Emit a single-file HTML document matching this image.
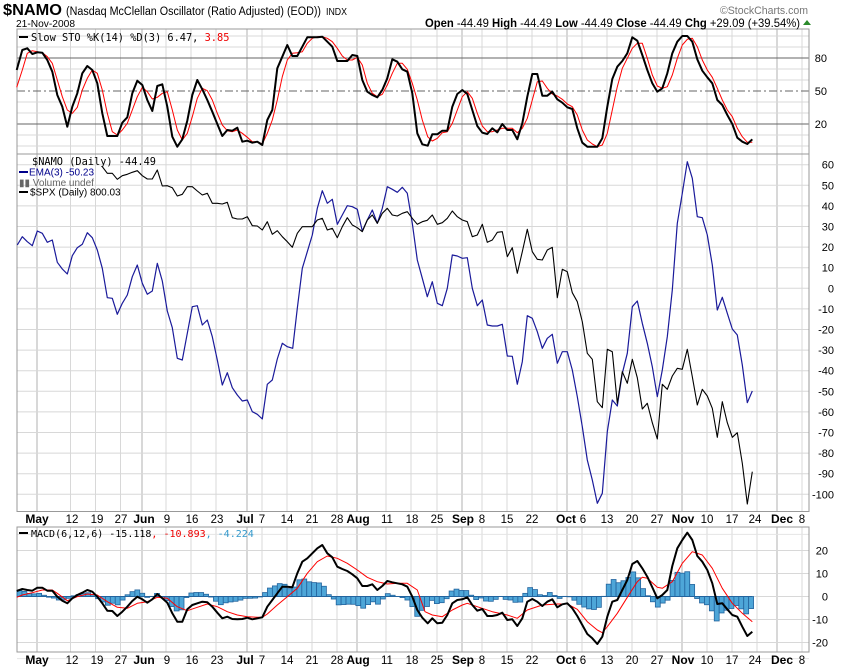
<!DOCTYPE html>
<html><head><meta charset="utf-8"><style>
body{margin:0;background:#fff;width:850px;height:668px;overflow:hidden}
svg{display:block}
text{font-family:"Liberation Sans",Arial,sans-serif}
.mono{font-family:"DejaVu Sans Mono","Liberation Mono",monospace}
</style></head><body>
<svg id="s" width="850" height="668" xmlns="http://www.w3.org/2000/svg">
<rect width="850" height="668" fill="#fff"/>
<g id="grid"></g>
<g id="series"></g>
<g id="txt">
<text x="3" y="15" font-size="16" font-weight="bold" textLength="59" lengthAdjust="spacingAndGlyphs">$NAMO</text>
<text x="66" y="15" font-size="11.5" textLength="255" lengthAdjust="spacingAndGlyphs">(Nasdaq McClellan Oscillator (Ratio Adjusted) (EOD))</text>
<text x="326" y="15" font-size="10" textLength="21" lengthAdjust="spacingAndGlyphs">INDX</text>
<text x="16" y="27" font-size="10.5" textLength="59" lengthAdjust="spacingAndGlyphs">21-Nov-2008</text>
<text x="720" y="14" font-size="11" fill="#777" textLength="88" lengthAdjust="spacingAndGlyphs">©StockCharts.com</text>
<text x="425" y="27" font-size="12" textLength="375" lengthAdjust="spacingAndGlyphs"><tspan font-weight="bold">Open</tspan> -44.49  <tspan font-weight="bold">High</tspan> -44.49  <tspan font-weight="bold">Low</tspan> -44.49  <tspan font-weight="bold">Close</tspan> -44.49  <tspan font-weight="bold">Chg</tspan> +29.09 (+39.54%)</text>
<polygon points="803,25 811,25 807,20" fill="#2a8a2a"/>
<line x1="19" y1="37" x2="28" y2="37" stroke="#000" stroke-width="2"/>
<text x="31" y="41" font-size="10.3" class="mono">Slow STO %K(14) %D(3) 6.47, <tspan fill="#e00">3.85</tspan></text>
<text x="32" y="165" font-size="10.3" class="mono">$NAMO (Daily) -44.49</text>
<line x1="19" y1="172" x2="28" y2="172" stroke="#00008b" stroke-width="2"/>
<text x="29" y="175.5" font-size="10" fill="#00008b">EMA(3) -50.23</text>
<text x="19" y="186" font-size="10" fill="#666">▮▮ Volume undef</text>
<line x1="19" y1="192" x2="28" y2="192" stroke="#000" stroke-width="2"/>
<text x="30" y="195.5" font-size="10">$SPX (Daily) 800.03</text>
<line x1="19" y1="533" x2="28" y2="533" stroke="#000" stroke-width="2"/>
<text x="31" y="537" font-size="10" class="mono">MACD(6,12,6) -15.118<tspan fill="#e00">, -10.893</tspan><tspan fill="#3399cc">, -4.224</tspan></text>
</g>
</svg>
<script>
const NS="http://www.w3.org/2000/svg";
const grid=document.getElementById('grid'),ser=document.getElementById('series'),tx=document.getElementById('txt');
function el(p,n,a,t){const e=document.createElementNS(NS,n);for(const k in a)e.setAttribute(k,a[k]);if(t!==undefined)e.textContent=t;p.appendChild(e);return e;}
const L=17,R=809;
const panels=[[29,154],[154,511.5],[527,652]];
const weeks=[70.5,95.5,120.5,166,191,216,262,287,312,337,386,411,437,482,507,532,557,582,607,632,657,707,732,757,802];
const months=[37,142,247,357,462,567,682,777];
panels.forEach(([t,b])=>{
 weeks.forEach(x=>el(grid,'line',{x1:x,x2:x,y1:t,y2:b,stroke:'#d8d8d8','stroke-width':1}));
 months.forEach(x=>el(grid,'line',{x1:x,x2:x,y1:t,y2:b,stroke:'#b0b0b0','stroke-width':1}));
});
const ty=v=>91-(v-50)*1.1;
for(let v=0;v<=100;v+=10){if(v==20||v==50||v==80)continue;const y=ty(v);if(y>29&&y<154)el(grid,'line',{x1:L,x2:R,y1:y,y2:y,stroke:'#d8d8d8'});}
[20,80].forEach(v=>el(grid,'line',{x1:L,x2:R,y1:ty(v),y2:ty(v),stroke:'#666'}));
el(grid,'line',{x1:L,x2:R,y1:ty(50),y2:ty(50),stroke:'#666','stroke-dasharray':'8,3,2,3'});
[80,50,20].forEach(v=>el(tx,'text',{x:827,y:ty(v)+4,'font-size':11,'text-anchor':'end'},v));
const my=v=>288.3-v*2.06;
for(let v=-100;v<=60;v+=10){const y=my(v);el(grid,'line',{x1:L,x2:R,y1:y,y2:y,stroke:'#d8d8d8'});el(tx,'text',{x:834,y:y+4,'font-size':11,'text-anchor':'end'},v);}
const cy=v=>596.5-v*2.3;
for(let v=-20;v<=20;v+=10){const y=cy(v);el(grid,'line',{x1:L,x2:R,y1:y,y2:y,stroke:'#d8d8d8'});el(tx,'text',{x:828,y:y+4,'font-size':11,'text-anchor':'end'},v);}
[27,-27].forEach(v=>el(grid,'line',{x1:L,x2:R,y1:cy(v),y2:cy(v),stroke:'#e4e4e4'}));
panels.forEach(([t,b])=>el(grid,'rect',{x:L,y:t,width:R-L,height:b-t,fill:'none',stroke:'#999'}));
const xl=[["May",37,1],["12",72],["19",97],["27",121],["Jun",144,1],["9",167],["16",192],["23",217],["Jul",245,1],["7",262],["14",287],["21",312],["28",337],["Aug",358,1],["11",387],["18",412],["25",437],["Sep",463,1],["8",482],["15",507],["22",532],["Oct",566,1],["6",583],["13",607],["20",632],["27",657],["Nov",683,1],["10",707],["17",732],["24",755],["Dec",782,1],["8",802]];
[523,664].forEach(y=>xl.forEach(([s,x,b])=>el(tx,'text',{x:x,y:y,'font-size':b?12:11.5,'font-weight':b?'bold':'normal','text-anchor':'middle'},s)));
function pl(a,c,w){el(ser,'polyline',{points:a.join(' '),fill:'none',stroke:c,'stroke-width':w,'stroke-linejoin':'round'});}
function pairs(a){const r=[];for(let i=0;i<a.length;i+=2)r.push([a[i],a[i+1]]);return r;}
const mk=pairs([16.7,591,22.3,589,27.3,590,32.3,590.7,37.3,587.7,42.3,587.7,47.3,590.7,52.3,590.7,57.3,596.7,62.3,600.7,67.3,603.3,72.3,598.3,77.3,595,82.3,592.7,87.3,590,92.3,591.7,97.3,596.7,102.3,603.3,107.3,610.7,112.3,611,117.3,616,122.3,611.7,127.3,606.7,132.3,601,137.3,596.7,142.3,599.3,147.3,602.7,152.3,599.3,157.3,594,162.3,598.3,167.3,602.7,172.3,613.3,177.3,621.7,182.3,621.7,187.3,609.3,192.3,605,197.3,603.3,202.3,601.7,207.3,602.3,212.3,606.7,217.3,612.7,222.3,618.3,227.3,616.7,232.3,619,237.3,619.3,242.3,619,247.3,617.7,252.3,619.3,257.3,618.3,262.3,617.3,267.3,606.7,272.3,600,277.3,593.3,282.3,586.7,287.3,586.7,292.3,587.3,297.3,573.3,302.3,561.7,307.3,558.3,312.3,553.3,317.3,548.3,322.3,545,327.3,553.3,332.3,557.3,337.3,566.7,342.3,569,347.3,571,352.3,574.3,357.3,578.3,362.3,586,367.3,586,372.3,584.3,377.3,590,382.3,586,387.3,581,392.3,582.3,397.3,583.3,402.3,584.3,407.3,586.7,412.3,596.7,417.3,610,422.3,617.7,427.7,623.3,432.3,618.3,437.3,623.3,442.3,622.7,447.3,615,452.3,603.3,457.3,600,462.3,599.3,467.3,597.3,472.3,605,477.3,610.7,482.3,609,487.3,616,492.3,616,497.3,615,502.3,612.7,507.3,620,512.3,619.3,517.3,626,522.3,618.3,527.3,601.7,532.3,599,537.3,601.7,542.3,606,547.3,601.7,552.3,599.3,557.3,607.3,562.3,604.3,567.3,603.3,572.3,608.3,577.3,616,582.3,625,587.3,634,592.3,638.3,597.3,644,602.3,636.7,607.3,616.7,612.3,601.7,617.3,600,622.3,590,627.3,580,632.3,564,637.3,561,642.3,568.3,647.3,576.7,652.3,587.3,657.3,598.3,662.3,595,667.3,590,672.3,566,677.3,548.3,682.3,540,687.3,532.7,692.3,540,697.3,556,702.3,561.7,707.3,570,712.3,583.3,717.3,604,722.3,603.3,727.3,609.3,732.3,615,737.3,616.7,742.3,626.7,747.3,636,752.3,631.7]);
const ms=pairs([16.7,597.3,22.3,595,32.3,592.7,42.3,590,52.3,590,57.3,593.3,67.3,600.7,77.3,596.7,87.3,594,97.3,595,107.3,601.7,117.3,607.3,127.3,608.3,137.3,603.3,147.3,601.7,157.3,597.3,167.3,598.3,177.3,606.7,187.3,610.7,197.3,607.3,207.3,604,217.3,606.7,227.3,611.7,237.3,615,247.3,616.7,257.3,617.3,262.3,617.3,267.3,614,277.3,605,287.3,596.7,297.3,588.3,307.3,573.3,317.3,561.7,327.3,556,337.3,558.3,347.3,563.3,357.3,570,367.3,577.3,377.3,581.7,387.3,584,397.3,583.3,407.3,583.3,417.3,590,425,611.7,432.3,615,442.3,616.7,452.3,610,462.3,605,467.3,603.3,477.3,606.7,492.3,611.7,507.3,615,517.3,618.3,527.3,610,542.3,605,557.3,604,567.3,604,577.3,609.3,587.3,621.7,597.3,630,602.3,632.7,607.3,626.7,617.3,613.3,627.3,597.3,637.3,581.7,642.3,577.3,647.3,578.3,657.3,587.3,662.3,588.3,672.3,581.7,682.3,563.3,692.3,551.7,702.3,555,712.3,568.3,722.3,588.3,732.3,603.3,742.3,613.3,752.3,621.7]);
function interp(a,x){for(let i=1;i<a.length;i++){if(a[i][0]>=x){const[x0,y0]=a[i-1],[x1,y1]=a[i];return y0+(y1-y0)*(x-x0)/(x1-x0);}}return a[a.length-1][1];}
for(let x=19.5;x<=752.5;x+=4.91){const h=(interp(mk,x)-interp(ms,x));const y0=596.5,y1=596.5+h;
 el(ser,'rect',{x:x-2.45,y:Math.min(y0,y1),width:4.91,height:Math.abs(h)+0.01,fill:'#4ea6d8',stroke:'#23649e','stroke-width':0.8});}
el(ser,'line',{x1:L,x2:752,y1:596.5,y2:596.5,stroke:'#23649e','stroke-width':1});
pl(ms.map(p=>p.join(',')),'#f00',1);
pl(mk.map(p=>p.join(',')),'#000',2);
pl([16.7,87.3,22.3,70,27.3,53.3,32.3,50.7,37.3,51.7,42.3,52.7,47.3,56.7,52.3,63.3,57.3,80,62.3,96.7,67.3,110,72.3,113.3,77.3,107.3,82.3,90,87.3,78.3,92.3,70,97.3,73.3,102.3,90,107.3,113.3,112.3,131.7,117.3,135,122.3,130,127.3,123.3,132.3,110,137.3,96.7,142.3,87.3,147.3,91.7,152.3,99,157.3,97.3,162.3,93.3,167.3,91.7,172.3,110,177.3,130,182.3,140,187.3,133.3,192.3,116.7,197.3,98.3,202.3,88.3,207.3,90.7,212.3,100,217.3,113.3,222.3,125,227.3,130.7,232.3,131.7,237.3,130,242.3,133.3,247.3,137.3,252.3,141.7,257.3,141.7,262.3,144,267.3,133.3,272.3,120,277.3,100,282.3,76.7,287.3,60,292.3,53.3,297.3,52.7,302.3,51.7,307.3,43.3,312.3,38.3,317.3,36.7,322.3,36.7,327.3,38.3,332.3,41.7,337.3,48.3,342.3,56,347.3,60,352.3,60,357.3,57.3,362.3,65,367.3,83.3,372.3,93.3,377.3,96.7,382.3,94.3,387.3,85,392.3,73.3,397.3,63.3,402.3,63.3,407.3,69.3,412.3,83.3,417.3,100,422.3,120,425,128.3,427.7,136.7,432.3,141,437.3,138.3,442.3,132.7,447.3,131.7,452.3,123.3,457.3,110,462.3,96.7,467.3,91.7,472.3,98.3,477.3,113.3,482.3,126,487.3,131.7,492.3,131.7,497.3,130,502.3,128.3,507.3,128.3,512.3,128.3,517.3,132.7,522.3,128.3,527.3,118.3,532.3,100,537.3,81.7,542.3,81,547.3,88.3,552.3,94,557.3,96,562.3,99.3,567.3,104,572.3,106.7,577.3,115,582.3,130,587.3,140,592.3,144,597.3,146.7,602.3,145,607.3,133.3,612.3,110,617.3,86.7,622.3,68.3,627.3,58.3,632.3,48.3,637.3,43.3,642.3,43.3,647.3,58.3,652.3,75,657.3,86,662.3,88.3,667.3,86.7,672.3,75,677.3,58.3,682.3,45,687.3,39.3,692.3,38.3,697.3,46.7,702.3,60,707.3,70,712.3,77.3,717.3,88.3,722.3,100,727.3,110,732.3,116.7,737.3,128.3,742.3,136.7,747.3,142.3,752.3,142.3],'#f00',1);
pl([16.7,70,22.3,50,27.3,48.3,32.3,54,37.3,52.3,42.3,52.7,47.3,60,52.3,71.7,57.3,95,62.3,106.7,67.3,126.7,72.3,106.7,77.3,93.3,82.3,73.3,87.3,66,92.3,70,97.3,83.3,102.3,113.3,107.3,136,112.3,136,117.3,136,122.3,122.7,127.3,117.3,132.3,93.3,137.3,80.7,142.3,85,147.3,100,152.3,111,157.3,86,162.3,84.3,167.3,106.7,172.3,136.7,177.3,146.7,182.3,139.3,187.3,120.7,192.3,95,197.3,80,202.3,89.3,207.3,100,212.3,111.7,217.3,124,222.3,136,227.3,130,232.3,130.7,237.3,127.7,242.3,141.7,247.3,140.7,252.3,142.7,257.3,141.7,262.3,145,267.3,120,272.3,110,277.3,68.3,282.3,56.7,287.3,45,292.3,56,297.3,56,302.3,46.7,307.3,37.3,312.3,37.3,317.3,37.3,322.3,36.7,327.3,41.7,332.3,46.7,337.3,61,342.3,61,347.3,61,352.3,55,357.3,56,362.3,80,367.3,91.7,372.3,95,377.3,97.3,382.3,90,387.3,78.3,392.3,59.3,397.3,61.7,402.3,69.3,407.3,71.7,412.3,93.3,417.3,133.3,422.3,144.3,427.7,145.7,432.3,134.3,437.3,134.3,442.3,130.7,447.3,130.7,452.3,106.7,457.3,94,462.3,90,467.3,94,472.3,110,477.3,126,482.3,132.7,487.3,134,492.3,128.3,497.3,132.3,502.3,124,507.3,130,512.3,130,517.3,139.3,522.3,123.3,527.3,96.7,532.3,74,537.3,74,542.3,95.7,547.3,95.7,552.3,91.7,557.3,99.3,562.3,102.7,567.3,107.3,572.3,109,577.3,128.3,582.3,142.7,587.3,146.7,592.3,146.7,597.3,146.7,602.3,138.3,607.3,106.7,612.3,79,617.3,66.7,622.3,61,627.3,53.3,632.3,37.3,637.3,40.7,642.3,55,647.3,70,652.3,83.3,657.3,91.7,662.3,88.3,667.3,73.3,672.3,53.3,677.3,41.7,682.3,36,687.3,36,692.3,41.7,697.3,59.3,702.3,70.7,707.3,77.3,712.3,83.3,717.3,100,722.3,105,727.3,115,732.3,124,737.3,137.7,742.3,141.7,747.3,144,752.3,139.3],'#000',2);
pl([17.3,245,22.3,236.7,27.3,241.7,32.3,245.7,37.3,231,42.3,233.3,47.3,242.3,52.3,240,57.3,262.3,62.3,269,67.3,274,72.3,255.7,77.3,247.7,82.3,244.3,87.3,232.7,92.3,237.7,97.3,250,102.3,268.3,107.3,297.7,112.3,298.3,117.3,314.3,122.3,303.3,127.3,295,132.3,276.7,137.3,265,142.3,283.3,147.3,294.3,152.3,291,157.3,263.3,162.3,281,167.3,311,172.3,327.7,177.3,358.3,182.3,360,187.3,333.3,192.3,306.7,197.3,305.7,202.3,325,207.3,320,212.3,336.7,217.3,360,222.3,385,227.3,372.7,232.3,387.7,237.3,395,242.3,401,247.3,400,252.3,411.7,257.3,414.3,262.3,419,267.3,384.3,272.3,380,277.3,359,282.3,343.3,287.3,346.7,292.7,348.3,297.3,308.3,302.3,268.3,307.3,251.7,312.3,235,317.3,208.3,322.3,190.7,327.3,203.3,332.3,199.3,337.3,224.3,342.3,215,347.3,205.7,352.3,206.7,357.3,209.3,362.3,231,367.3,220,372.3,210,377.3,223.3,382.3,208.3,387.3,186.7,392.3,189.3,397.3,192.3,402.3,187.3,407.3,193.3,412.3,223.3,417.3,260,422.3,278.3,427.3,296.7,432.3,281.7,437.3,303.3,442.3,305.7,447.3,288.3,452.3,255,457.3,256,462.3,258.3,467.3,257.7,472.3,288.3,477.3,305.7,482.3,300,487.3,325,492.3,326,497.3,326,502.3,324.3,507.3,356,512.3,356.3,517.3,384.3,522.3,361.7,527.3,315.7,532.3,318.3,537.3,331.7,542.3,348.3,547.3,338.3,552.3,334.3,557.3,363.3,562.3,351.7,567.3,351.7,572.3,370,577.3,396.7,582.3,426.7,587.3,460,592.3,480,597.3,503.3,602.3,493.3,607.3,431.7,612.3,400,617.3,406,622.3,373.3,627.3,353.3,632.3,306.7,637.3,301,642.3,323.3,647.3,343.3,652.3,366.7,657.3,396.7,662.3,370,667.3,336.7,672.3,290,677.3,223.3,682.3,193.3,687.3,161.7,692.3,178.3,697.3,216.7,702.3,217.7,707.3,235,712.3,265,717.3,310,722.3,297.3,727.3,313.3,732.3,329,737.3,335,742.3,365,747.3,402.7,752.3,391],'#1a1a9a',1.2);
pl([102.3,166.7,107.3,173.3,112.3,173.3,117.3,179.3,122.3,175.7,127.3,174.3,132.3,172.3,137.3,170.7,142.3,175.7,147.3,179,152.3,179,157.3,170,162.3,186,167.3,185.7,172.3,187.7,177.3,196,182.3,194.3,187.3,186.7,192.3,186.7,197.3,191,202.3,195,207.3,193.3,212.3,203.3,217.3,203.3,222.3,204,227.3,202.3,232.3,217.7,237.3,219,242.3,219,247.3,216.7,252.3,225.7,257.3,226,262.3,230,267.3,221.7,272.3,234.3,277.3,230.7,282.3,236.7,287.3,241.7,292.3,247.3,297.3,233.3,302.3,226.7,307.3,226.7,312.3,226.7,317.3,220,322.3,218.3,327.3,230,332.3,228.3,337.3,237.7,342.3,226.7,347.3,217.7,352.3,225,357.3,227.7,362.3,231.7,367.3,220,372.3,215,377.3,223.3,382.3,213.3,387.3,208.3,392.3,215,397.3,216,402.3,213.3,407.3,211.7,412.3,218.3,417.3,224.3,422.3,221.7,427.3,220.3,432.3,215,437.3,224.3,442.3,222.7,447.3,218.3,452.3,211,457.3,216.7,462.3,220,467.3,221.7,472.3,236.7,477.3,235,482.3,224.3,487.3,242.3,492.3,240,497.3,232.3,502.3,231.7,507.3,256.7,512.3,247.7,517.3,273.3,522.3,251.7,527.3,229.3,532.3,251.7,537.3,259.3,542.3,260,547.3,250,552.3,247.3,557.3,297.7,562.3,269.3,567.3,271.7,572.3,292.7,577.3,301.7,582.3,321.7,587.3,353.3,592.3,359.3,597.3,401.7,602.3,407.7,607.3,349.3,612.3,351.7,617.3,403.3,622.3,371.7,627.3,383.3,632.3,359.3,637.3,377.7,642.3,409,647.3,403.3,652.3,422.7,657.3,439,662.3,384.3,667.3,389.3,672.3,376,677.3,368.3,682.3,369.3,687.3,349.3,692.3,376.7,697.3,405,702.3,389.3,707.3,396,712.3,408.3,717.3,437.3,722.3,401.7,727.3,422.7,732.3,437.3,737.3,432.7,742.3,463.3,747.3,504,752.3,471.7],'#000',1.1);
</script>
</body></html>
